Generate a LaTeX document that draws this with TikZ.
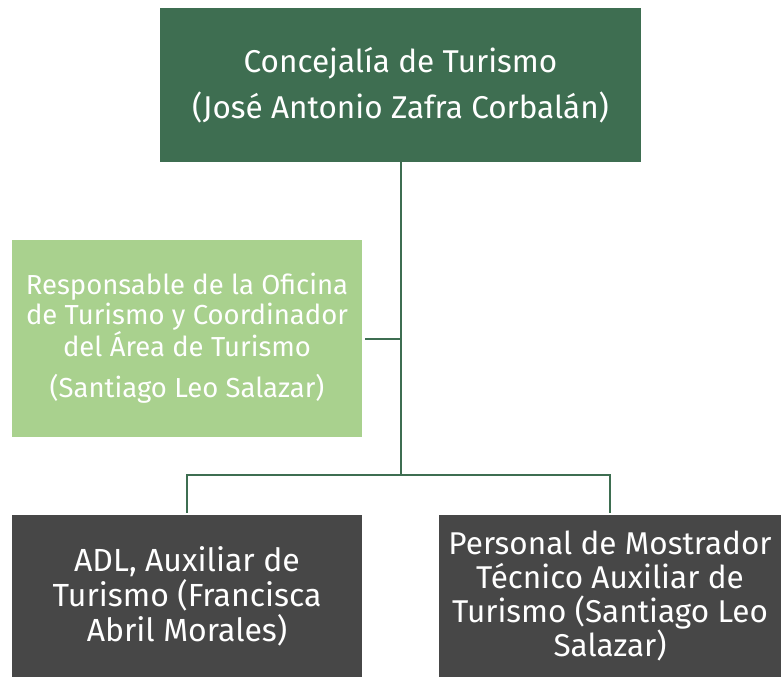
\documentclass[tikz,border=0pt]{standalone}
\usepackage{fontspec}
\setmainfont{Fira Sans}
\usepackage{tikz}
\usetikzlibrary{positioning}
\usepackage{xcolor}
\definecolor{verdeosc}{HTML}{3E6E51}
\definecolor{verdecla}{HTML}{A9D18E}
\definecolor{grisosc}{HTML}{474747}

\tikzset{
  caja/.style={rectangle, inner sep=0pt, align=center, text=white},
  conector/.style={draw=verdeosc, line width=2pt}
}

\begin{document}
\begin{tikzpicture}[x=1pt, y=1pt]
    \useasboundingbox (0,0) rectangle (781,-677);

    % Cajas
    \node[caja, fill=verdeosc, minimum width=481pt, minimum height=154pt,
          font=\fontsize{31.5}{46}\selectfont] (conc) at (400.5,-85)
          {Concejalía de Turismo\\(José Antonio Zafra Corbalán)};

    \node[caja, fill=verdecla, minimum width=350pt, minimum height=197pt,
          font=\fontsize{27.5}{30}\selectfont] (resp) at (187,-338.5)
          {Responsable de la Oficina\\de Turismo y Coordinador\\del Área de Turismo\\[11pt](Santiago Leo Salazar)};

    \node[caja, fill=grisosc, minimum width=350pt, minimum height=162pt,
          font=\fontsize{32}{35}\selectfont] (adl) at (187,-596)
          {ADL, Auxiliar de\\Turismo (Francisca\\Abril Morales)};

    \node[caja, fill=grisosc, minimum width=342pt, minimum height=162pt,
          font=\fontsize{31.5}{34}\selectfont] (pers) at (610,-596)
          {Personal de Mostrador\\Técnico Auxiliar de\\Turismo (Santiago Leo\\Salazar)};

    % Conectores
    \coordinate (bus) at (400.5,-475);
    \draw[conector] (conc.south) -- (bus);
    \draw[conector] ([xshift=3pt]resp.east) -- (resp.east -| conc.south);
    \draw[conector] ([yshift=2pt]adl.north) |- (bus) -| ([yshift=2pt]pers.north);
\end{tikzpicture}
\end{document}
